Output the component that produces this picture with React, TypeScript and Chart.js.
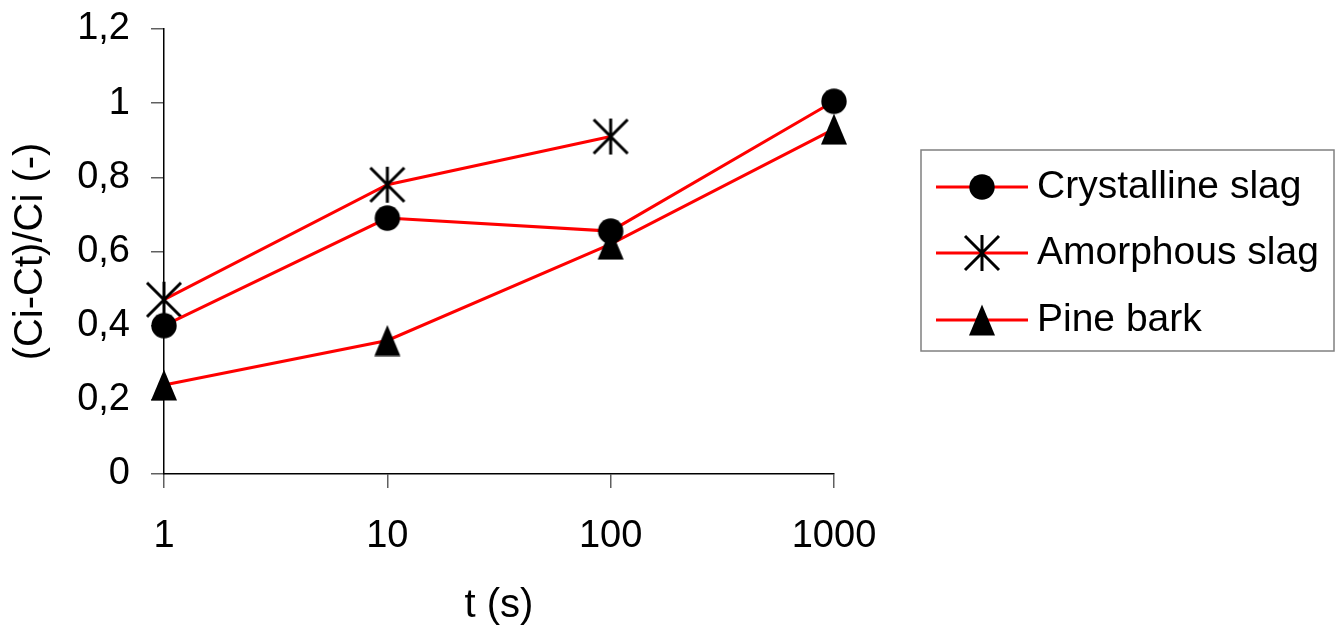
import React, { useEffect, useRef } from 'react';
import { Chart, registerables } from 'chart.js';

Chart.register(...registerables);

const xValues = [1, 10, 100, 1000];
const xTickValues = [1, 10, 100, 1000];
const yTickValues = [0, 0.2, 0.4, 0.6, 0.8, 1, 1.2];
const crystallineSlag = [0.40, 0.69, 0.655, 1.005];
const amorphousSlag = [0.47, 0.78, 0.91, null];
const pineBark = [0.24, 0.36, 0.62, 0.93];
const seriesNames = ['Crystalline slag', 'Amorphous slag', 'Pine bark'];
const xTitle = 't (s)';
const yTitle = '(Ci-Ct)/Ci (-)';

const FONT = '"Liberation Sans", Arial, sans-serif';
const RED = '#ff0000';

function makeMarker(kind: string): HTMLCanvasElement {
  const c = document.createElement('canvas');
  const ctx = c.getContext('2d')!;
  if (kind === 'circle') {
    c.width = 28; c.height = 28;
    ctx.fillStyle = '#000';
    ctx.beginPath();
    ctx.arc(14, 14, 12.7, 0, Math.PI * 2);
    ctx.fill();
  } else if (kind === 'triangle') {
    c.width = 28; c.height = 32;
    ctx.fillStyle = '#000';
    ctx.beginPath();
    ctx.moveTo(14, 0.5);
    ctx.lineTo(27, 31.5);
    ctx.lineTo(1, 31.5);
    ctx.closePath();
    ctx.fill();
  } else {
    c.width = 40; c.height = 40;
    ctx.strokeStyle = '#000';
    ctx.lineWidth = 3;
    ctx.beginPath();
    ctx.moveTo(20, 2); ctx.lineTo(20, 38);
    ctx.moveTo(3, 3); ctx.lineTo(37, 37);
    ctx.moveTo(37, 3); ctx.lineTo(3, 37);
    ctx.stroke();
  }
  return c;
}

export default function App() {
  const ref = useRef<HTMLCanvasElement>(null);
  useEffect(() => {
    const markers = [makeMarker('circle'), makeMarker('star'), makeMarker('triangle')];
    const series = [crystallineSlag, amorphousSlag, pineBark];
    const datasets = series.map((vals, i) => ({
      label: seriesNames[i],
      data: xValues.map((x, j) => ({ x, y: vals[j] })),
      borderColor: RED,
      borderWidth: 3,
      backgroundColor: '#000',
      pointStyle: markers[i] as any,
      pointRadius: 13,
      pointHoverRadius: 13,
      spanGaps: false,
      clip: false as any,
      tension: 0,
    }));

    const legendPlugin = {
      id: 'customLegend',
      afterDraw(chart: any) {
        const ctx = chart.ctx;
        ctx.save();
        ctx.strokeStyle = '#808080';
        ctx.lineWidth = 1.5;
        ctx.strokeRect(921, 150, 413, 201);
        const rows = [187, 253, 320];
        chart.data.datasets.forEach((ds: any, i: number) => {
          const y = rows[i];
          ctx.strokeStyle = RED;
          ctx.lineWidth = 3;
          ctx.beginPath();
          ctx.moveTo(936, y);
          ctx.lineTo(1028, y);
          ctx.stroke();
          const m = markers[i];
          ctx.drawImage(m, 982 - m.width / 2, y - m.height / 2);
          ctx.fillStyle = '#000';
          ctx.font = `39px ${FONT}`;
          ctx.textBaseline = 'middle';
          ctx.textAlign = 'left';
          ctx.fillText(ds.label, 1037, y);
        });
        ctx.restore();
      },
    };

    const chart = new Chart(ref.current!, {
      type: 'line',
      data: { datasets: datasets as any },
      options: {
        animation: false,
        responsive: true,
        maintainAspectRatio: false,
        layout: { padding: { top: 29, right: 501, left: 0, bottom: 0 } },
        plugins: { legend: { display: false }, tooltip: { enabled: false } },
        scales: {
          x: {
            type: 'logarithmic',
            min: 1,
            max: 1000,
            afterBuildTicks: (scale: any) => {
              scale.ticks = xTickValues.map((v) => ({ value: v }));
            },
            afterFit: (scale: any) => {
              scale.height = 157;
              scale.paddingLeft = 0;
              scale.paddingRight = 0;
            },
            grid: { drawOnChartArea: false, color: '#606060', tickLength: 14, lineWidth: 1.5 },
            border: { color: '#000', width: 1.5 },
            ticks: {
              color: '#000',
              font: { family: FONT, size: 38 },
              padding: 26,
              maxRotation: 0,
              autoSkip: false,
              callback: (v: any) => String(v),
            },
            title: {
              display: true,
              text: xTitle,
              color: '#000',
              font: { family: FONT, size: 40 },
              padding: { top: 0, bottom: 1 },
            },
          },
          y: {
            type: 'linear',
            min: 0,
            max: 1.2,
            afterBuildTicks: (scale: any) => {
              scale.ticks = yTickValues.map((v) => ({ value: v }));
            },
            afterFit: (scale: any) => {
              scale.width = 164;
              scale.paddingTop = 0;
              scale.paddingBottom = 0;
            },
            grid: { drawOnChartArea: false, color: '#606060', tickLength: 13, lineWidth: 1.5 },
            border: { color: '#000', width: 1.5 },
            ticks: {
              color: '#000',
              font: { family: FONT, size: 38 },
              padding: 21,
              callback: (v: any) => String(parseFloat(Number(v).toFixed(2))).replace('.', ','),
            },
            title: {
              display: true,
              text: yTitle,
              color: '#000',
              font: { family: FONT, size: 40 },
              padding: { top: 7, bottom: 0 },
            },
          },
        },
      },
      plugins: [legendPlugin],
    });
    return () => chart.destroy();
  }, []);

  return (
    <div style={{ position: 'fixed', left: 0, top: 0, width: 1335, height: 631, background: '#fff' }}>
      <canvas ref={ref} />
    </div>
  );
}
